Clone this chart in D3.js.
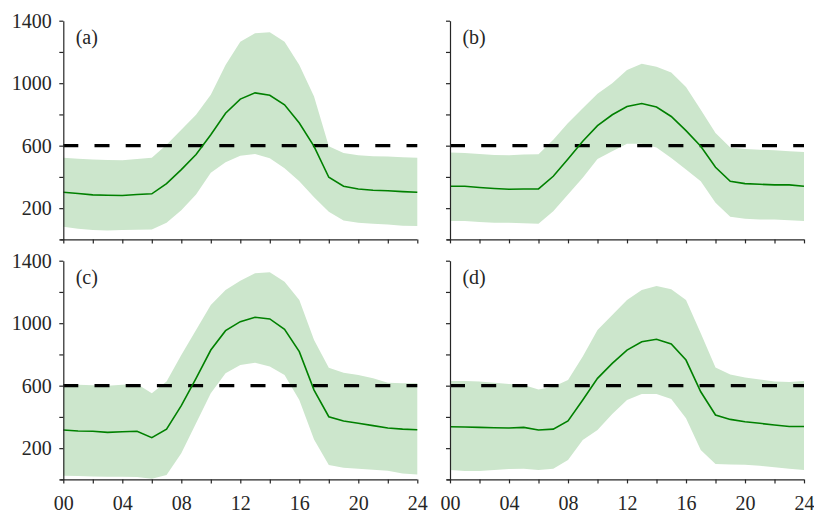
<!DOCTYPE html>
<html>
<head>
<meta charset="utf-8">
<script src="https://cdn.jsdelivr.net/npm/d3@7"></script>
<style>
  body { margin: 0; background: #fff; }
  svg text { font-family: "Liberation Serif", "Times New Roman", serif; fill: #262626; }
</style>
</head>
<body>
<div id="chart"></div>
<script>
// hours 0..24
var hours = d3.range(0, 25);
var xTickLabels = ["00", "04", "08", "12", "16", "20", "24"];
var yTickLabels = [200, 600, 1000, 1400];
var threshold = 600;
var panelNames = ["(a)", "(b)", "(c)", "(d)"];

// panel (a)
var meanA = [302, 294, 285, 283, 281, 287, 292, 357, 447, 543, 670, 808, 898, 938, 923, 862, 745, 596, 398, 340, 323, 315, 311, 306, 302];
var upA   = [523, 517, 511, 508, 506, 515, 523, 606, 702, 798, 926, 1117, 1266, 1319, 1326, 1266, 1117, 915, 596, 553, 538, 532, 530, 526, 523];
var lowA  = [81, 68, 60, 57, 60, 62, 64, 106, 187, 287, 426, 494, 536, 547, 519, 455, 372, 270, 177, 121, 106, 100, 96, 87, 85];
// panel (b)
var meanB = [340, 340, 332, 326, 321, 323, 323, 404, 515, 628, 728, 798, 851, 870, 847, 787, 696, 596, 462, 372, 357, 353, 349, 349, 340];
var upB   = [557, 553, 547, 540, 538, 543, 545, 638, 745, 840, 932, 1000, 1085, 1124, 1106, 1068, 975, 830, 681, 589, 579, 574, 570, 564, 560];
var lowB  = [117, 117, 111, 106, 106, 104, 100, 181, 287, 394, 515, 564, 613, 613, 589, 521, 447, 372, 234, 145, 132, 128, 128, 123, 117];
// panel (c)
var meanC = [316, 310, 308, 301, 305, 308, 267, 322, 472, 647, 828, 952, 1010, 1038, 1027, 961, 818, 572, 401, 374, 359, 344, 329, 322, 318];
var upC   = [608, 606, 602, 600, 606, 611, 551, 626, 796, 956, 1117, 1213, 1272, 1319, 1326, 1266, 1149, 892, 715, 683, 668, 647, 619, 615, 615];
var lowC  = [23, 21, 19, 17, 17, 15, 4, 28, 167, 359, 551, 679, 732, 747, 722, 668, 508, 256, 92, 75, 68, 62, 56, 38, 32];
// panel (d)
var meanD = [337, 335, 333, 331, 329, 333, 316, 322, 374, 508, 647, 743, 828, 881, 897, 867, 764, 561, 412, 384, 369, 359, 348, 339, 339];
var upD   = [630, 630, 626, 619, 611, 604, 576, 593, 636, 786, 956, 1052, 1149, 1213, 1238, 1217, 1149, 935, 717, 672, 653, 640, 626, 623, 630];
var lowD  = [60, 53, 53, 60, 66, 68, 60, 68, 124, 252, 316, 418, 508, 547, 547, 515, 391, 188, 98, 96, 94, 88, 77, 68, 60];

var means = [meanA, meanB, meanC, meanD];
var ups = [upA, upB, upC, upD];
var lows = [lowA, lowB, lowC, lowD];

var W = 814, H = 513;
var fontStack = '"Liberation Serif", "Times New Roman", serif';
var svg = d3.select("#chart").append("svg").attr("width", W).attr("height", H);

// panel boxes: left/top of plot area
var cols = [63.3, 450];
var rows = [20.7, 260.7];
var pw = 354, ph = 218.7;

for (var p = 0; p < 4; p++) {
    var col = p % 2, row = Math.floor(p / 2);
    var g = svg.append("g").attr("transform", "translate(" + cols[col] + "," + rows[row] + ")");
    var x = d3.scaleLinear().domain([0, 24]).range([0, pw]);
    var y = d3.scaleLinear().domain([0, 1400]).range([ph, 0]);

    var band = hours.map(function(h, i) { return { h: h, lo: lows[p][i], hi: ups[p][i], m: means[p][i] }; });

    g.append("path").datum(band)
        .attr("d", d3.area().x(function(d) { return x(d.h); }).y0(function(d) { return y(d.lo); }).y1(function(d) { return y(d.hi); }))
        .style("fill", "#cce6cc").style("stroke", "none");

    g.append("line")
        .attr("x1", x(0)).attr("x2", x(24)).attr("y1", y(threshold)).attr("y2", y(threshold))
        .style("stroke", "#000").style("stroke-width", 3.4).style("stroke-dasharray", "15,16.2");

    g.append("path").datum(band)
        .attr("d", d3.line().x(function(d) { return x(d.h); }).y(function(d) { return y(d.m); }))
        .style("fill", "none").style("stroke", "#008000").style("stroke-width", 1.6);

    var xa = d3.axisBottom(x).tickValues(d3.range(0, 25, 2)).tickSizeInner(4).tickSizeOuter(0).tickPadding(12.5)
        .tickFormat(function(d) { return (row == 1 && d % 4 == 0) ? xTickLabels[d / 4] : ""; });
    var gx = g.append("g").attr("transform", "translate(0," + ph + ")").call(xa);

    var ya = d3.axisLeft(y).tickValues(d3.range(0, 1401, 200)).tickSizeInner(4).tickSizeOuter(0).tickPadding(7.5)
        .tickFormat(function(d) { return (col == 0 && yTickLabels.indexOf(d) >= 0) ? d : ""; });
    var gy = g.append("g").call(ya);

    [gx, gy].forEach(function(a) {
        a.attr("font-family", fontStack);
        a.selectAll("path, line").style("stroke", "#262626").style("stroke-width", 1.2);
        a.selectAll("text").style("font-size", "20px").style("fill", "#262626").style("font-family", fontStack);
    });
    gx.select(".domain").attr("d", "M-3,0.5H" + pw);

    g.append("text").attr("x", 12.4).attr("y", 23).style("font-size", "20px").style("font-family", fontStack).text(panelNames[p]);
}
</script>
</body>
</html>
